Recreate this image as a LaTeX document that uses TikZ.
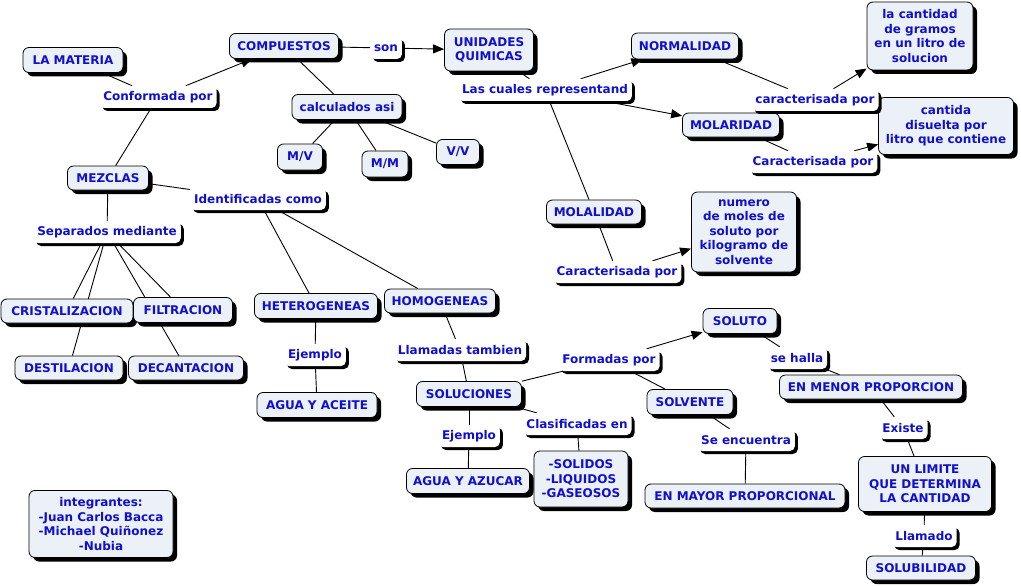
\documentclass[tikz,border=0pt]{standalone}
\usepackage{fontspec}
\setmainfont{DejaVu Sans}
\usetikzlibrary{shadows,arrows.meta,backgrounds}
\definecolor{tblue}{RGB}{16,16,204}
\definecolor{cfill}{RGB}{235,241,246}
\begin{document}
\begin{tikzpicture}[x=1pt,y=-1pt,
  every node/.style={font=\fontsize{12}{14.5}\selectfont\bfseries, text=tblue, align=center},
  concept/.style={draw=black, line width=0.8pt, fill=cfill, rounded corners=6pt, inner sep=2pt,
    drop shadow={shadow xshift=4pt, shadow yshift=-4pt, fill=black, opacity=1}},
  linkp/.style={fill=white, rounded corners=5pt, inner xsep=4pt, inner ysep=2pt, minimum height=22pt,
    drop shadow={shadow xshift=3pt, shadow yshift=-3pt, fill=black, opacity=1}},
  conn/.style={draw=black, line width=0.9pt},
  arr/.style={conn, -{Triangle[length=11pt,width=9pt]}}
]
\useasboundingbox (0,0) rectangle (1021,586);
% concepts
\node[concept, minimum width=100pt, minimum height=25pt] (mat) at (73,60) {LA MATERIA};
\node[concept, minimum width=109pt, minimum height=25pt] (comp) at (284,46) {COMPUESTOS};
\node[concept, minimum width=89pt, minimum height=42pt] (uq) at (489,50) {UNIDADES\\QUIMICAS};
\node[concept, minimum width=107pt, minimum height=26pt] (norm) at (685,46) {NORMALIDAD};
\node[concept, minimum width=106pt, minimum height=68pt] (cgr) at (920,36) {la cantidad\\de gramos\\en un litro de\\solucion};
\node[concept, minimum width=97pt, minimum height=24pt] (molar) at (731,125) {MOLARIDAD};
\node[concept, minimum width=135pt, minimum height=57pt] (cdis) at (946,126) {cantida\\disuelta por\\litro que contiene};
\node[concept, minimum width=95pt, minimum height=24pt] (molal) at (594,212) {MOLALIDAD};
\node[concept, minimum width=105pt, minimum height=80pt] (nmol) at (744,232) {numero\\de moles de\\soluto por\\kilogramo de\\solvente};
\node[concept, minimum width=110pt, minimum height=25pt] (calc) at (347,107) {calculados asi};
\node[concept, minimum width=45pt, minimum height=26pt] (mv) at (300,157) {M/V};
\node[concept, minimum width=46pt, minimum height=26pt] (mm) at (385,164) {M/M};
\node[concept, minimum width=43pt, minimum height=25pt] (vv) at (458,152) {V/V};
\node[concept, minimum width=81pt, minimum height=24pt] (mez) at (108,178) {MEZCLAS};
\node[concept, minimum width=132pt, minimum height=24pt] (crist) at (67,311) {CRISTALIZACION};
\node[concept, minimum width=99pt, minimum height=25pt] (filt) at (183,310) {FILTRACION};
\node[concept, minimum width=108pt, minimum height=24pt] (dest) at (69,368) {DESTILACION};
\node[concept, minimum width=115pt, minimum height=24pt] (dec) at (186,368) {DECANTACION};
\node[concept, minimum width=123pt, minimum height=25pt] (het) at (316,306) {HETEROGENEAS};
\node[concept, minimum width=111pt, minimum height=24pt] (hom) at (440,301) {HOMOGENEAS};
\node[concept, minimum width=120pt, minimum height=25pt] (aac) at (317,405) {AGUA Y ACEITE};
\node[concept, minimum width=105pt, minimum height=25pt] (sol) at (469,394) {SOLUCIONES};
\node[concept, minimum width=123pt, minimum height=25pt] (aaz) at (468,481) {AGUA Y AZUCAR};
\node[concept, minimum width=94pt, minimum height=56pt] (slg) at (581,479) {-SOLIDOS\\-LIQUIDOS\\-GASEOSOS};
\node[concept, minimum width=74pt, minimum height=25pt] (solu) at (740,321) {SOLUTO};
\node[concept, minimum width=86pt, minimum height=25pt] (solv) at (690,402) {SOLVENTE};
\node[concept, minimum width=183pt, minimum height=24pt] (menor) at (871,387) {EN MENOR PROPORCION};
\node[concept, minimum width=200pt, minimum height=24pt] (mayor) at (745,496) {EN MAYOR PROPORCIONAL};
\node[concept, minimum width=133pt, minimum height=55pt] (lim) at (925,484) {UN LIMITE\\QUE DETERMINA\\LA CANTIDAD};
\node[concept, minimum width=109pt, minimum height=24pt] (solub) at (921,568) {SOLUBILIDAD};
\node[concept, minimum width=144pt, minimum height=67pt] (integ) at (101,524) {integrantes:\\-Juan Carlos Bacca\\-Michael Quiñonez\\-Nubia};
% linking phrases
\node[linkp] (l1) at (158,97) {Conformada por};
\node[linkp] (l2) at (386,48) {son};
\node[linkp] (l3) at (545,90) {Las cuales representand};
\node[linkp] (l4) at (815,100) {caracterisada por};
\node[linkp] (l5) at (813,162) {Caracterisada por};
\node[linkp] (l6) at (617,272) {Caracterisada por};
\node[linkp] (l7) at (258,199) {Identificadas como};
\node[linkp] (l8) at (107,232) {Separados mediante};
\node[linkp] (l9) at (315,355) {Ejemplo};
\node[linkp] (l10) at (460,350) {Llamadas tambien};
\node[linkp] (l11) at (609,360) {Formadas por};
\node[linkp] (l12) at (469,436) {Ejemplo};
\node[linkp] (l13) at (577,424) {Clasificadas en};
\node[linkp] (l14) at (797,358) {se halla};
\node[linkp] (l15) at (746,440) {Se encuentra};
\node[linkp] (l16) at (903,428) {Existe};
\node[linkp] (l17) at (924,536) {Llamado};
% connectors
\begin{scope}[on background layer]
\fill[white] (0,0) rectangle (1021,586);
\draw[conn] (mat) -- (l1);
\draw[arr] (l1) -- (comp);
\draw[conn] (l1) -- (mez);
\draw[conn] (comp) -- (l2);
\draw[arr] (l2) -- (uq);
\draw[conn] (comp) -- (calc);
\draw[conn] (calc) -- (mv);
\draw[conn] (calc) -- (mm);
\draw[conn] (calc) -- (vv);
\draw[conn] (uq) -- (l3);
\draw[arr] (l3) -- (norm);
\draw[arr] (l3) -- (molar);
\draw[conn] (l3) -- (molal);
\draw[conn] (norm) -- (l4);
\draw[arr] (l4) -- (cgr);
\draw[conn] (molar) -- (l5);
\draw[arr] (l5) -- (cdis);
\draw[conn] (molal) -- (l6);
\draw[arr] (l6) -- (nmol);
\draw[conn] (mez) -- (l7);
\draw[conn] (l7) -- (het);
\draw[conn] (l7) -- (hom);
\draw[conn] (mez) -- (l8);
\draw[conn] (l8) -- (crist);
\draw[conn] (l8) -- (dest);
\draw[conn] (l8) -- (filt);
\draw[conn] (l8) -- (dec);
\draw[conn] (het) -- (l9);
\draw[conn] (l9) -- (aac);
\draw[conn] (hom) -- (l10);
\draw[conn] (l10) -- (sol);
\draw[conn] (sol) -- (l11);
\draw[arr] (l11) -- (solu);
\draw[conn] (l11) -- (solv);
\draw[conn] (sol) -- (l12);
\draw[conn] (l12) -- (aaz);
\draw[conn] (sol) -- (l13);
\draw[conn] (l13) -- (slg);
\draw[conn] (solu) -- (l14);
\draw[conn] (l14) -- (menor);
\draw[conn] (solv) -- (l15);
\draw[conn] (l15) -- (mayor);
\draw[conn] (menor) -- (l16);
\draw[conn] (l16) -- (lim);
\draw[conn] (lim) -- (l17);
\draw[conn] (l17) -- (solub);
\end{scope}
\end{tikzpicture}
\end{document}
